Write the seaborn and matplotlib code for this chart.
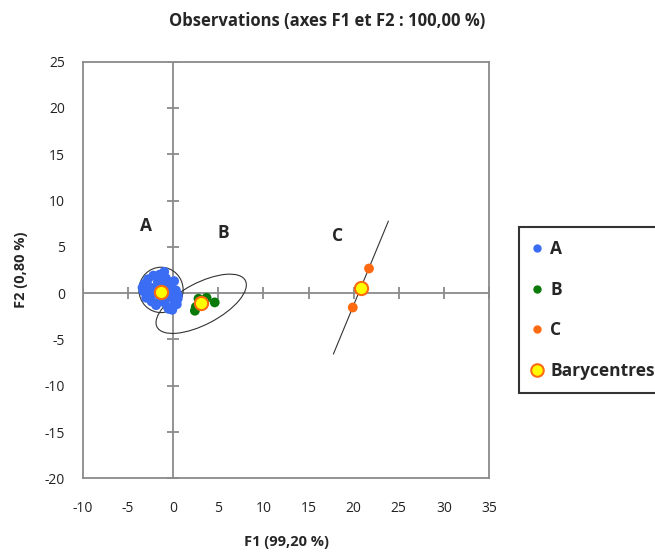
import numpy as np
import pandas as pd
import matplotlib
matplotlib.use("Agg")
import matplotlib.pyplot as plt
from matplotlib.patches import Ellipse
from matplotlib.lines import Line2D
import seaborn as sns

# ---- data ----
a_x = [-3.2, -3.3, -3.0, -2.8, -2.5, -2.4, -2.2, -2.0, -1.9, -1.7, -1.5, -1.4, -1.2, -1.0,
       -1.0, -0.8, -0.7, -0.6, -0.4, -0.3, -0.2, -0.1, 0.1, 0.2, 0.3, 0.5, -0.5, -2.7,
       -1.8, -0.9, 0.0, -3.4, 0.4, 0.5]
a_y = [1.0, 0.2, -0.5, 1.5, 0.6, -0.9, 1.9, 0.0, -1.3, 1.2, 2.0, -0.6, 0.8, 2.3,
       -1.0, 1.6, 0.2, -1.5, 1.1, -0.4, 0.6, -1.8, 1.3, -1.0, 0.3, -0.6, -1.7, -0.1,
       0.5, -0.3, -1.4, 0.6, -1.2, -0.2]
b_x = [2.4, 2.5, 2.8, 3.7, 4.6]
b_y = [-1.9, -1.5, -0.6, -0.5, -1.0]
c_x = [19.9, 21.7]
c_y = [-1.55, 2.66]

groups = ["A", "B", "C"]
colors = ["#3a6cf4", "#0a7a0a", "#ff6a10"]

bary_x = [-1.3, 3.1, 20.8]
bary_y = [0.1, -1.1, 0.6]

# confidence ellipses: centre x, centre y, width, height, angle (deg)
ell_cx = [-1.35, 3.1, 20.8]
ell_cy = [0.35, -1.15, 0.6]
ell_w = [4.9, 11.0, 15.6]
ell_h = [4.9, 4.5, 0.0]
ell_ang = [0.0, 27.0, 67.0]

label_x = [-3.0, 5.6, 18.2]
label_y = [7.3, 6.5, 6.2]

xticks = [-10, -5, 0, 5, 10, 15, 20, 25, 30, 35]
yticks = [-20, -15, -10, -5, 0, 5, 10, 15, 20, 25]

title = "Observations (axes F1 et F2 : 100,00 %)"
xlabel = "F1 (99,20 %)"
ylabel = "F2 (0,80 %)"

# ---- figure ----
sns.set_style("white")
plt.rcParams["font.family"] = ["Open Sans", "DejaVu Sans"]
plt.rcParams["axes.unicode_minus"] = False

fig = plt.figure(figsize=(6.55, 5.53), dpi=100)
ax = fig.add_axes([83 / 655, 1 - 478.3 / 553, (489 - 83) / 655, (478.3 - 61.7) / 553])

df = pd.DataFrame({
    "x": a_x + b_x + c_x,
    "y": a_y + b_y + c_y,
    "g": ["A"] * len(a_x) + ["B"] * len(b_x) + ["C"] * len(c_x),
})

grey = "#8a8a8a"
ax.axhline(0, color=grey, lw=1.3, zorder=1)
ax.axvline(0, color=grey, lw=1.3, zorder=1)
ax.plot(xticks, [0] * len(xticks), ls="none", marker="|", ms=9, mew=1.3, color=grey, zorder=1)
ax.plot([0] * len(yticks), yticks, ls="none", marker="_", ms=9, mew=1.3, color=grey, zorder=1)

for cx, cy, w, h, ang in zip(ell_cx, ell_cy, ell_w, ell_h, ell_ang):
    if h > 0:
        ax.add_patch(Ellipse((cx, cy), w, h, angle=ang, fill=False, ec="#333333", lw=0.8, zorder=2))
    else:
        t = np.deg2rad(ang)
        ax.plot([cx - w / 2 * np.cos(t), cx + w / 2 * np.cos(t)],
                [cy - w / 2 * np.sin(t), cy + w / 2 * np.sin(t)], color="#333333", lw=0.8, zorder=2)

sns.scatterplot(data=df, x="x", y="y", hue="g", palette=dict(zip(groups, colors)),
                s=50, edgecolor="none", ax=ax, legend=False, zorder=3)
sns.scatterplot(x=bary_x, y=bary_y, s=90, color="#ffff00", edgecolor="#ff6a10",
                linewidth=1.5, ax=ax, legend=False, zorder=4)

for gx, gy, g in zip(label_x, label_y, groups):
    ax.text(gx, gy, g, fontsize=12.5, fontweight="bold", ha="center", va="center")

ax.set_xlim(-10, 35)
ax.set_ylim(-20, 25)
ax.set_xticks(xticks)
ax.set_yticks(yticks)
ax.tick_params(axis="both", length=0, labelsize=10, colors="#222222")
ax.tick_params(axis="x", pad=16)
ax.tick_params(axis="y", pad=13)
for s in ax.spines.values():
    s.set_color(grey)
    s.set_linewidth(1.3)

ax.set_xlabel(xlabel, fontsize=10.5, fontweight="bold", labelpad=14)
ax.set_ylabel(ylabel, fontsize=10.5, fontweight="bold", labelpad=12)
fig.text(0.5, 1 - 21 / 553, title, fontsize=12, fontweight="bold", ha="center", va="center")

handles = [Line2D([], [], ls="none", marker="o", ms=5, mfc=c, mec=c) for c in colors]
handles.append(Line2D([], [], ls="none", marker="o", ms=9, mfc="#ffff00", mec="#ff6a10", mew=1.5))
leg = fig.legend(handles, groups + ["Barycentres"], loc="upper left",
                 bbox_to_anchor=(519 / 655, 1 - 227 / 553), frameon=True, fancybox=False,
                 handlelength=0.6, handletextpad=0.45, labelspacing=1.3, borderpad=0.75,
                 borderaxespad=0, prop={"weight": "bold", "size": 12.5})
leg.get_frame().set_edgecolor("black")
leg.get_frame().set_linewidth(1.5)

fig.savefig("out.png", dpi=100)
